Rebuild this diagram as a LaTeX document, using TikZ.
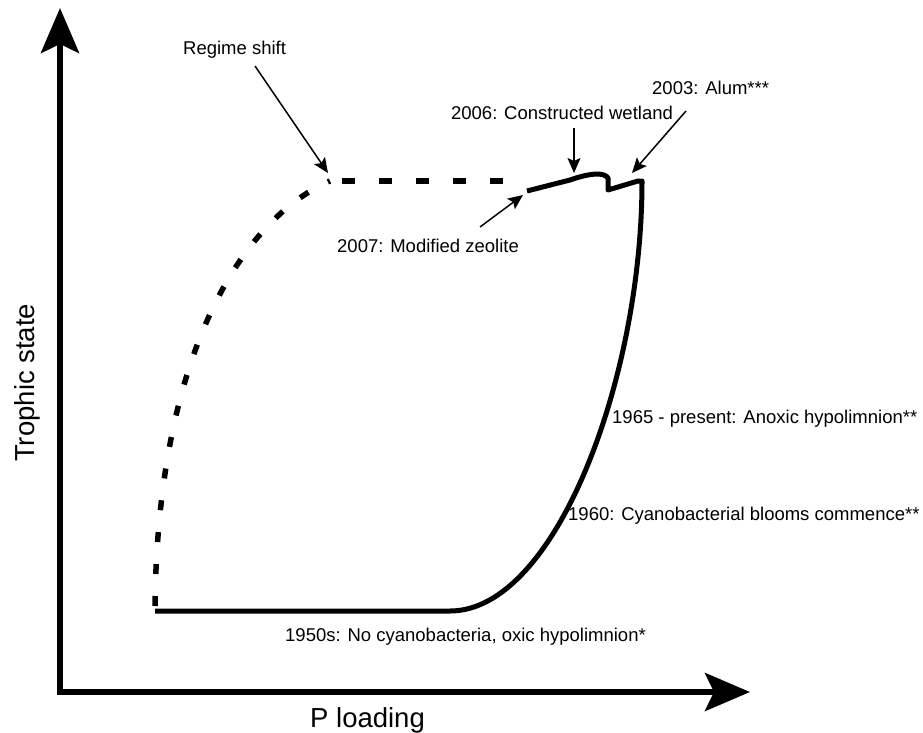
\documentclass[tikz,border=0pt]{standalone}
\usepackage{fontspec}
\setmainfont{Liberation Sans}
\usetikzlibrary{arrows.meta}

\begin{document}
\begin{tikzpicture}[x=1pt, y=-1pt,
		axis/.style={line width=6pt, line join=miter, {Stealth[length=45pt, width=38pt, inset=9pt]}-{Stealth[length=45pt, width=38pt, inset=9pt]}},
		trend/.style={line width=5pt, line join=round},
		shifted/.style={line width=5.5pt, dash pattern=on 13pt off 24pt},
		bending/.style={line width=5.5pt, dash pattern=on 10pt off 22pt},
		pointer/.style={line width=1.5pt, -{Stealth[length=15pt, width=13pt, inset=3pt]}},
		note/.style={font=\fontsize{18.5}{22}\selectfont, inner sep=0pt},
		title/.style={font=\fontsize{27.5}{32}\selectfont, inner sep=0pt} ]
		\useasboundingbox (0,0) rectangle (923,733);
		% axes
		\coordinate (origin) at (60,692);
		\coordinate (ytip) at (60,8);
		\coordinate (xtip) at (750,692);
		\draw[axis] (ytip) -- (origin) -- (xtip);
		\node[title, anchor=base west] (xlabel) at (310,727) {P loading};
		\node[title, anchor=base west, rotate=90] (ylabel) at (34,462) {Trophic state};
		% recovery path (solid) and regime shift (dashed)
		\draw[trend] (155,611) -- (450,611) .. controls (555,611) and (642,380) .. (642,181)
			-- (638,181) -- (608,190) -- (608,178) .. controls (604,172) and (590,173) .. (570,180) -- (527,191);
		\coordinate (shiftpeak) at (330,181);
		\draw[bending] (155,606) .. controls (158,340) and (250,215) .. (shiftpeak);
		\draw[shifted] ([xshift=12pt]shiftpeak) -- (525,181);
		% labels
		\node[note, anchor=base] (wetland) at (562,120) {2006: Constructed wetland};
		\node[note, anchor=base west] (regime) at (183,55) {Regime shift};
		\node[note, anchor=base west] (alum) at (652,95) {2003: Alum***};
		\node[note, anchor=base west] (zeolite) at (337,252) {2007: Modified zeolite};
		\node[note, anchor=base west] (anoxic) at (612,423) {1965 - present: Anoxic hypolimnion**};
		\node[note, anchor=base west] (blooms) at (568,520) {1960: Cyanobacterial blooms commence**};
		\node[note, anchor=base west] (oxic) at (285,641) {1950s: No cyanobacteria, oxic hypolimnion*};
		% pointers
		\coordinate (regimefoot) at (255,66);
		\coordinate (regimetip) at (328,173);
		\coordinate (wetlandfoot) at (574,128);
		\coordinate (wetlandtip) at (574,173);
		\coordinate (alumfoot) at (686,111);
		\coordinate (alumtip) at (632,173);
		\coordinate (zeolitefoot) at (480,227);
		\coordinate (zeolitetip) at (523,195);
		\draw[pointer] (regimefoot) -- (regimetip);
		\draw[pointer] (wetlandfoot) -- (wetlandtip);
		\draw[pointer] (alumfoot) -- (alumtip);
		\draw[pointer] (zeolitefoot) -- (zeolitetip);
	\end{tikzpicture}
\end{document}
